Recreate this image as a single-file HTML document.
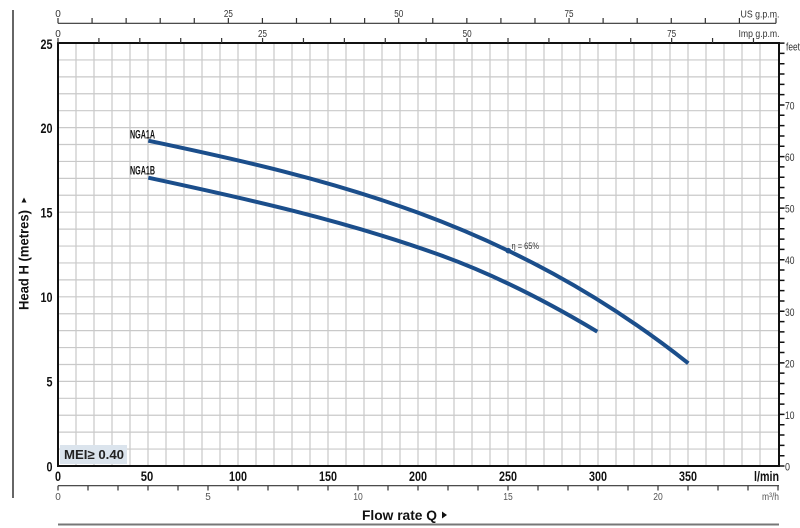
<!DOCTYPE html>
<html><head><meta charset="utf-8"><style>
html,body{margin:0;padding:0;background:#fff;}
svg{display:block;}
text{font-family:"Liberation Sans",Arial,sans-serif;}
</style></head><body>
<svg width="800" height="528" viewBox="0 0 800 528" xmlns="http://www.w3.org/2000/svg">
<rect width="800" height="528" fill="#fff"/>
<!-- grid -->
<g stroke="#c9c9c9" stroke-width="1.2" fill="none">
<path d="M76 43V466M94 43V466M112 43V466M130 43V466M148 43V466M166 43V466M184 43V466M202 43V466M220 43V466M238 43V466M256 43V466M274 43V466M292 43V466M310 43V466M328 43V466M346 43V466M364 43V466M382 43V466M400 43V466M418 43V466M436 43V466M454 43V466M472 43V466M490 43V466M508 43V466M526 43V466M544 43V466M562 43V466M580 43V466M598 43V466M616 43V466M634 43V466M652 43V466M670 43V466M688 43V466M706 43V466M724 43V466M742 43V466M760 43V466"/>
<path d="M58 59.92H779M58 76.84H779M58 93.76H779M58 110.68H779M58 127.6H779M58 144.52H779M58 161.44H779M58 178.36H779M58 195.28H779M58 212.2H779M58 229.12H779M58 246.04H779M58 262.96H779M58 279.88H779M58 296.8H779M58 313.72H779M58 330.64H779M58 347.56H779M58 364.48H779M58 381.4H779M58 398.32H779M58 415.24H779M58 432.16H779M58 449.08H779"/>
</g>
<!-- plot border -->
<rect x="58" y="43" width="721" height="423" fill="none" stroke="#111" stroke-width="2"/>
<!-- left outer line -->
<path d="M13 10V498" stroke="#333" stroke-width="1.5"/>
<!-- bottom grey line -->
<path d="M58 524.5H779" stroke="#777" stroke-width="2"/>

<!-- US gpm axis -->
<g stroke="#333" stroke-width="1.2" fill="none">
<path d="M58 23.3H776"/>
<path d="M58 18V23.3M92.07 18V23.3M126.14 18V23.3M160.21 18V23.3M194.28 18V23.3M228.35 18V23.3M262.42 18V23.3M296.49 18V23.3M330.56 18V23.3M364.63 18V23.3M398.7 18V23.3M432.77 18V23.3M466.84 18V23.3M500.91 18V23.3M534.98 18V23.3M569.05 18V23.3M603.12 18V23.3M637.19 18V23.3M671.26 18V23.3M705.33 18V23.3M739.4 18V23.3M776 18V23.3"/>
<!-- Imp gpm ticks -->
<path d="M58 38V43M98.91 38V43M139.82 38V43M180.73 38V43M221.64 38V43M262.55 38V43M303.46 38V43M344.37 38V43M385.28 38V43M426.19 38V43M467.1 38V43M508.01 38V43M548.92 38V43M589.83 38V43M630.74 38V43M671.65 38V43M712.56 38V43M753.47 38V43"/>
<!-- m3/h axis -->
<path d="M58 485.7H779"/>
<path d="M58 485.7V490.5M88 485.7V490.5M118 485.7V490.5M148 485.7V490.5M178 485.7V490.5M208 485.7V490.5M238 485.7V490.5M268 485.7V490.5M298 485.7V490.5M328 485.7V490.5M358 485.7V490.5M388 485.7V490.5M418 485.7V490.5M448 485.7V490.5M478 485.7V490.5M508 485.7V490.5M538 485.7V490.5M568 485.7V490.5M598 485.7V490.5M628 485.7V490.5M658 485.7V490.5M688 485.7V490.5M718 485.7V490.5M748 485.7V490.5M778 485.7V490.5"/>
</g>
<!-- feet ticks -->
<g stroke="#111" stroke-width="1.5" fill="none">
<path d="M779 466H784.5M779 455.69H784.5M779 445.37H784.5M779 435.06H784.5M779 424.74H784.5M779 414.43H784.5M779 404.11H784.5M779 393.8H784.5M779 383.48H784.5M779 373.17H784.5M779 362.86H784.5M779 352.54H784.5M779 342.23H784.5M779 331.91H784.5M779 321.6H784.5M779 311.28H784.5M779 300.97H784.5M779 290.65H784.5M779 280.34H784.5M779 270.03H784.5M779 259.71H784.5M779 249.4H784.5M779 239.08H784.5M779 228.77H784.5M779 218.45H784.5M779 208.14H784.5M779 197.82H784.5M779 187.51H784.5M779 177.2H784.5M779 166.88H784.5M779 156.57H784.5M779 146.25H784.5M779 135.94H784.5M779 125.62H784.5M779 115.31H784.5M779 104.99H784.5M779 94.68H784.5M779 84.37H784.5M779 74.05H784.5M779 63.74H784.5M779 53.42H784.5M779 43.11H784.5"/>
</g>

<!-- top labels -->
<g font-size="10" fill="#333">
<text x="58" y="17" text-anchor="middle">0</text>
<text x="228.4" y="17" text-anchor="middle" textLength="9" lengthAdjust="spacingAndGlyphs">25</text>
<text x="398.7" y="17" text-anchor="middle" textLength="9" lengthAdjust="spacingAndGlyphs">50</text>
<text x="569" y="17" text-anchor="middle" textLength="9" lengthAdjust="spacingAndGlyphs">75</text>
<text x="779.5" y="17.5" text-anchor="end" textLength="39" lengthAdjust="spacingAndGlyphs">US g.p.m.</text>
<text x="58" y="37" text-anchor="middle">0</text>
<text x="262.5" y="37" text-anchor="middle" textLength="9" lengthAdjust="spacingAndGlyphs">25</text>
<text x="467.1" y="37" text-anchor="middle" textLength="9" lengthAdjust="spacingAndGlyphs">50</text>
<text x="671.6" y="37" text-anchor="middle" textLength="9" lengthAdjust="spacingAndGlyphs">75</text>
<text x="779.5" y="37" text-anchor="end" textLength="41" lengthAdjust="spacingAndGlyphs">Imp g.p.m.</text>
</g>

<!-- feet labels -->
<g font-size="11" fill="#333">
<text x="786" y="50.5" textLength="14" lengthAdjust="spacingAndGlyphs">feet</text>
<text x="785" y="109.5" textLength="9.5" lengthAdjust="spacingAndGlyphs">70</text>
<text x="785" y="161" textLength="9.5" lengthAdjust="spacingAndGlyphs">60</text>
<text x="785" y="212.6" textLength="9.5" lengthAdjust="spacingAndGlyphs">50</text>
<text x="785" y="264.2" textLength="9.5" lengthAdjust="spacingAndGlyphs">40</text>
<text x="785" y="315.8" textLength="9.5" lengthAdjust="spacingAndGlyphs">30</text>
<text x="785" y="367.4" textLength="9.5" lengthAdjust="spacingAndGlyphs">20</text>
<text x="785" y="418.9" textLength="9.5" lengthAdjust="spacingAndGlyphs">10</text>
<text x="785" y="470.5" textLength="5" lengthAdjust="spacingAndGlyphs">0</text>
</g>

<!-- y labels -->
<g font-size="13.5" font-weight="bold" fill="#111" text-anchor="end">
<text x="52.5" y="49" textLength="12" lengthAdjust="spacingAndGlyphs">25</text>
<text x="52.5" y="133" textLength="12" lengthAdjust="spacingAndGlyphs">20</text>
<text x="52.5" y="217.5" textLength="12" lengthAdjust="spacingAndGlyphs">15</text>
<text x="52.5" y="302" textLength="12" lengthAdjust="spacingAndGlyphs">10</text>
<text x="52.5" y="386.5" textLength="6" lengthAdjust="spacingAndGlyphs">5</text>
<text x="52.5" y="471.5" textLength="6" lengthAdjust="spacingAndGlyphs">0</text>
</g>

<!-- x labels l/min -->
<g font-size="13.5" font-weight="bold" fill="#111" text-anchor="middle">
<text x="58" y="481" textLength="6" lengthAdjust="spacingAndGlyphs">0</text>
<text x="147" y="481" textLength="12.5" lengthAdjust="spacingAndGlyphs">50</text>
<text x="238" y="481" textLength="18" lengthAdjust="spacingAndGlyphs">100</text>
<text x="328" y="481" textLength="18" lengthAdjust="spacingAndGlyphs">150</text>
<text x="418" y="481" textLength="18" lengthAdjust="spacingAndGlyphs">200</text>
<text x="508" y="481" textLength="18" lengthAdjust="spacingAndGlyphs">250</text>
<text x="598" y="481" textLength="18" lengthAdjust="spacingAndGlyphs">300</text>
<text x="688" y="481" textLength="18" lengthAdjust="spacingAndGlyphs">350</text>
<text x="779" y="481" text-anchor="end" textLength="25" lengthAdjust="spacingAndGlyphs">l/min</text>
</g>

<!-- m3/h labels -->
<g font-size="10" fill="#555" text-anchor="middle">
<text x="58" y="500">0</text>
<text x="208" y="500">5</text>
<text x="358" y="500" textLength="9.5" lengthAdjust="spacingAndGlyphs">10</text>
<text x="508" y="500" textLength="9.5" lengthAdjust="spacingAndGlyphs">15</text>
<text x="658" y="500" textLength="9.5" lengthAdjust="spacingAndGlyphs">20</text>
<text x="779" y="500" text-anchor="end" textLength="17" lengthAdjust="spacingAndGlyphs">m³/h</text>
</g>

<!-- axis titles -->
<text transform="translate(28.5,310) rotate(-90)" font-size="13.5" font-weight="bold" fill="#111" textLength="100" lengthAdjust="spacingAndGlyphs">Head H  (metres)</text>
<path d="M21.5 202.5L26.5 202.5L24 197.5Z" fill="#111"/>
<text x="362" y="520" font-size="13.5" font-weight="bold" fill="#111" textLength="75" lengthAdjust="spacingAndGlyphs">Flow rate Q</text>
<path d="M442 511.5L442 518.5L447 515Z" fill="#111"/>

<!-- MEI box -->
<rect x="60" y="445" width="67" height="19" fill="#dbe4ed"/>
<text x="64" y="459" font-size="13" font-weight="bold" fill="#222" textLength="60" lengthAdjust="spacingAndGlyphs">MEI≥ 0.40</text>

<!-- curves -->
<g fill="none" stroke="#1b4e8b" stroke-width="4">
<path d="M148.3 140.7C328.3 178.56 508.3 220.87 688.3 363.3"/>
<path d="M148.3 177.7C245.53 198.6 342.77 220 440 255C492.43 273.88 544.87 300.24 597.3 331.7"/>
</g>
<circle cx="508.3" cy="250.7" r="2.8" fill="#1b4e8b"/>

<!-- curve labels -->
<g font-size="12" font-weight="bold" fill="#111">
<text x="130" y="138.5" textLength="25" lengthAdjust="spacingAndGlyphs">NGA1A</text>
<text x="130" y="174.5" textLength="25" lengthAdjust="spacingAndGlyphs">NGA1B</text>
</g>
<text x="511.5" y="249" font-size="9" fill="#333" textLength="27.5" lengthAdjust="spacingAndGlyphs">η = 65%</text>
</svg>
</body></html>
